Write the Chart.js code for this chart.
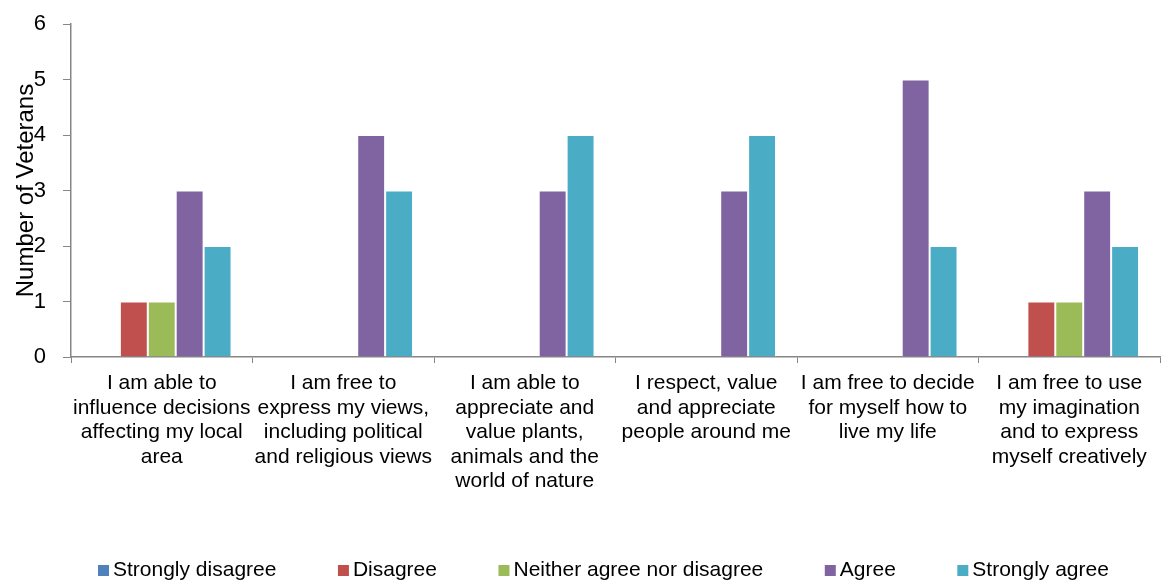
<!DOCTYPE html>
<html>
<head>
<meta charset="utf-8">
<title>Number of Veterans by statement</title>
<script src="https://cdn.jsdelivr.net/npm/chart.js@4/dist/chart.umd.min.js"></script>
<style>
  html, body { margin: 0; padding: 0; background: #ffffff; }
  #wrap { width: 1161px; height: 580px; }
</style>
</head>
<body>
<div id="wrap"><canvas id="chart" width="1161" height="580"></canvas></div>
<script>
// Survey statements (multi-line category labels)
const categories = [
  ["I am able to", "influence decisions", "affecting my local", "area"],
  ["I am free to", "express my views,", "including political", "and religious views"],
  ["I am able to", "appreciate and", "value plants,", "animals and the", "world of nature"],
  ["I respect, value", "and appreciate", "people around me"],
  ["I am free to decide", "for myself how to", "live my life"],
  ["I am free to use", "my imagination", "and to express", "myself creatively"]
];

// Response series (number of veterans per statement)
const seriesNames = ["Strongly disagree", "Disagree", "Neither agree nor disagree", "Agree", "Strongly agree"];
const stronglyDisagree = [0, 0, 0, 0, 0, 0];
const disagree         = [1, 0, 0, 0, 0, 1];
const neither          = [1, 0, 0, 0, 0, 1];
const agree            = [3, 4, 3, 3, 5, 3];
const stronglyAgree    = [2, 3, 4, 4, 2, 2];

// Y axis ticks
const yTicks = [0, 1, 2, 3, 4, 5, 6];
const yTitle = "Number of Veterans";

const seriesColors = ["#4F81BD", "#C0504D", "#9BBB59", "#8064A2", "#4BACC6"];
const seriesValues = [stronglyDisagree, disagree, neither, agree, stronglyAgree];

const FONT = "'Liberation Sans', Arial, sans-serif";
const AXIS_GREY = "#868686";

// Legend row along the bottom edge
const bottomLegend = {
  id: "bottomLegend",
  afterDraw(chart) {
    const ctx = chart.ctx;
    ctx.save();
    ctx.font = "21px " + FONT;
    ctx.textBaseline = "alphabetic";
    ctx.textAlign = "left";
    let x = 98;
    const boxSize = 11, boxTop = 565, baseline = 576, textGap = 15, itemGap = 61.5;
    chart.data.datasets.forEach(ds => {
      ctx.fillStyle = ds.backgroundColor;
      ctx.fillRect(x, boxTop, boxSize, boxSize);
      ctx.fillStyle = "#000000";
      const tx = x + textGap;
      ctx.fillText(ds.label, tx, baseline);
      x = tx + ctx.measureText(ds.label).width + itemGap;
    });
    ctx.restore();
  }
};

// Rotated y axis title, centred on the value axis
const yAxisTitle = {
  id: "yAxisTitle",
  afterDraw(chart) {
    const ctx = chart.ctx;
    const area = chart.chartArea;
    ctx.save();
    ctx.translate(33, (area.top + area.bottom) / 2);
    ctx.rotate(-Math.PI / 2);
    ctx.font = "24px " + FONT;
    ctx.fillStyle = "#000000";
    ctx.textAlign = "center";
    ctx.textBaseline = "alphabetic";
    ctx.fillText(yTitle, 0, 0);
    ctx.restore();
  }
};

new Chart(document.getElementById("chart"), {
  type: "bar",
  data: {
    labels: categories,
    datasets: seriesNames.map((name, i) => ({
      label: name,
      data: seriesValues[i],
      backgroundColor: seriesColors[i],
      borderColor: "rgba(255,255,255,0.55)",
      borderWidth: c => (c.raw ? 1 : 0),
      borderSkipped: "bottom",
      categoryPercentage: 0.769,
      barPercentage: 1.0
    }))
  },
  options: {
    responsive: false,
    devicePixelRatio: 1,
    animation: false,
    layout: { padding: { top: 24, right: 1, bottom: 0, left: 0 } },
    plugins: {
      legend: { display: false },
      tooltip: { enabled: false },
      title: { display: false }
    },
    scales: {
      x: {
        offset: true,
        grid: {
          offset: true,
          drawOnChartArea: false,
          drawTicks: true,
          tickLength: 6,
          color: AXIS_GREY,
          lineWidth: 1
        },
        border: { display: true, color: AXIS_GREY, width: 1.5 },
        ticks: {
          autoSkip: false,
          maxRotation: 0,
          minRotation: 0,
          padding: 8,
          color: "#000000",
          font: { family: FONT, size: 21, lineHeight: 1.17 }
        },
        afterFit(scale) {
          scale.height = 223;
          scale.paddingLeft = 0;
          scale.paddingRight = 0;
        }
      },
      y: {
        min: yTicks[0],
        max: yTicks[yTicks.length - 1],
        afterBuildTicks(scale) { scale.ticks = yTicks.map(v => ({ value: v })); },
        grid: {
          drawOnChartArea: false,
          drawTicks: true,
          tickLength: 8,
          color: AXIS_GREY,
          lineWidth: 1
        },
        border: { display: true, color: AXIS_GREY, width: 1.5 },
        ticks: {
          padding: 17,
          color: "#000000",
          font: { family: FONT, size: 22 }
        },
        afterFit(scale) {
          scale.width = 71;
          scale.paddingTop = 0;
          scale.paddingBottom = 0;
        }
      }
    }
  },
  plugins: [bottomLegend, yAxisTitle]
});
</script>
</body>
</html>
